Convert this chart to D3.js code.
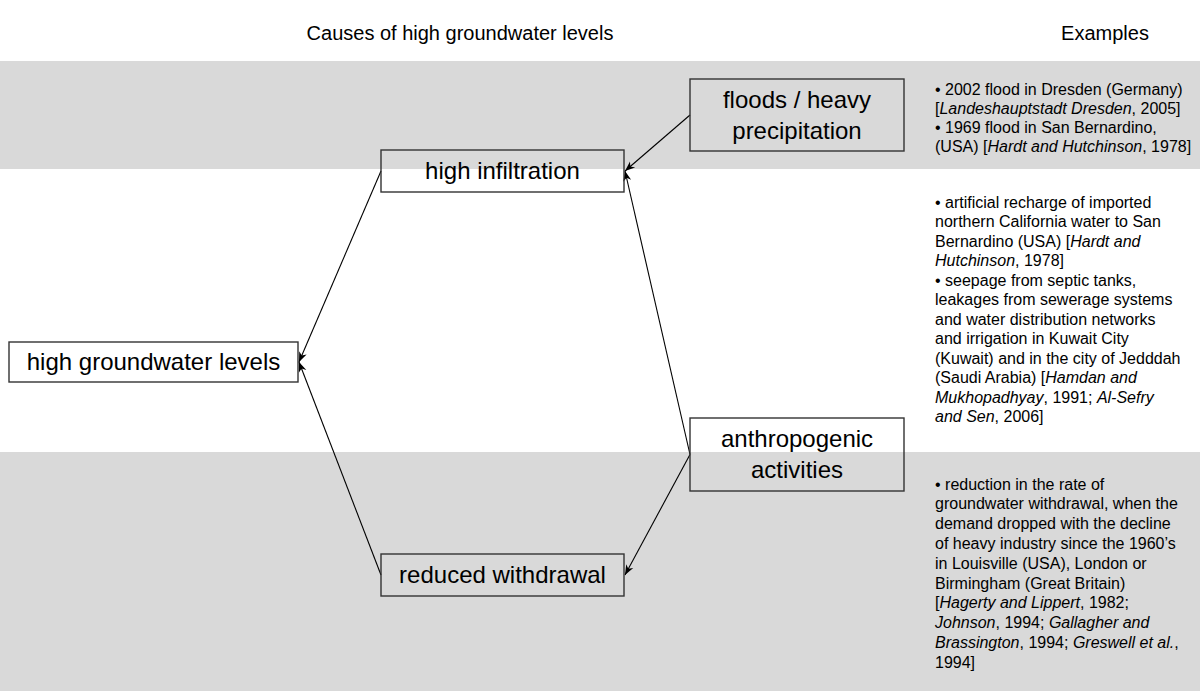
<!DOCTYPE html>
<html>
<head>
<meta charset="utf-8">
<script src="https://cdn.jsdelivr.net/npm/d3@7/dist/d3.min.js"></script>
<style>
  html, body { margin: 0; padding: 0; background: #fff; }
  svg { display: block; font-family: "Liberation Sans", Arial, sans-serif; }
</style>
</head>
<body>
<svg id="chart" width="1200" height="691"></svg>
<script>
// ---------------- data ----------------
const headings = ["Causes of high groundwater levels", "Examples"];

// diagram nodes: label lines and their causal level (0 = effect, 2 = root cause)
const nodeIds    = ["hgl", "infil", "withdr", "flood", "anthro"];
const nodeLines  = [["high groundwater levels"], ["high infiltration"], ["reduced withdrawal"],
                    ["floods / heavy", "precipitation"], ["anthropogenic", "activities"]];
const nodeLevels = [0, 1, 1, 2, 2];

// causal links: source -> target
const linkSources = ["flood", "anthro", "anthro", "infil", "withdr"];
const linkTargets = ["infil", "infil", "withdr", "hgl", "hgl"];

// horizontal bands (shaded, white, shaded) and their example texts (*...* = italic)
const bands = ["precipitation", "artificial", "withdrawal"];
const bandShaded = [true, false, true];
const examples1 = [
  "\u2022 2002 flood in Dresden (Germany)",
  "[*Landeshauptstadt Dresden*, 2005]",
  "\u2022 1969 flood in San Bernardino,",
  "(USA) [*Hardt and Hutchinson*, 1978]"
];
const examples2 = [
  "\u2022 artificial recharge of imported",
  "northern California water to San",
  "Bernardino (USA) [*Hardt and*",
  "*Hutchinson*, 1978]",
  "\u2022 seepage from septic tanks,",
  "leakages from sewerage systems",
  "and water distribution networks",
  "and irrigation in Kuwait City",
  "(Kuwait) and in the city of Jedddah",
  "(Saudi Arabia) [*Hamdan and*",
  "*Mukhopadhyay*, 1991; *Al-Sefry*",
  "*and Sen*, 2006]"
];
const examples3 = [
  "\u2022 reduction in the rate of",
  "groundwater withdrawal, when the",
  "demand dropped with the decline",
  "of heavy industry since the 1960\u2019s",
  "in Louisville (USA), London or",
  "Birmingham (Great Britain)",
  "[*Hagerty and Lippert*, 1982;",
  "*Johnson*, 1994; *Gallagher and*",
  "*Brassington*, 1994; *Greswell et al.*,",
  "1994]"
];
const examplesByBand = [examples1, examples2, examples3];

// ---------------- layout (scales) ----------------
const W = 1200, H = 691;
const svg = d3.select("#chart");

const bandY = d3.scaleOrdinal().domain(bands).range([61, 169, 452]);
const bandBottom = d3.scaleOrdinal().domain(bands).range([169, 452, 691]);
const exampleTop = d3.scaleOrdinal().domain(bands).range([89, 202, 484]);
const lineStep = d3.scaleOrdinal().domain(bands).range([19.1, 19.5, 19.8]);

const levelLeft  = d3.scaleOrdinal().domain([0, 1, 2]).range([9, 381, 690]);
const levelRight = d3.scaleOrdinal().domain([0, 1, 2]).range([298, 624, 904]);
const nodeCy = d3.scaleOrdinal().domain(nodeIds).range([362, 171, 575, 115, 454.5]);
const nodeH  = d3.scaleOrdinal().domain(nodeIds).range([40, 42, 42, 72, 73]);

const nodes = nodeIds.map((id, i) => ({
  id, lines: nodeLines[i], level: nodeLevels[i],
  x0: levelLeft(nodeLevels[i]), x1: levelRight(nodeLevels[i]),
  cy: nodeCy(id), h: nodeH(id)
}));
const byId = new Map(nodes.map(n => [n.id, n]));

// ---------------- bands ----------------
svg.append("g").selectAll("rect")
  .data(bands.filter((b, i) => bandShaded[i]))
  .join("rect")
  .attr("x", 0).attr("width", W)
  .attr("y", d => bandY(d))
  .attr("height", d => bandBottom(d) - bandY(d))
  .attr("fill", "#d9d9d9");

// ---------------- headings ----------------
const headX = d3.scaleOrdinal().domain(headings).range([460, 1105]);
svg.append("g").selectAll("text")
  .data(headings)
  .join("text")
  .attr("x", d => headX(d)).attr("y", 40)
  .attr("text-anchor", "middle")
  .attr("font-size", 20)
  .attr("fill", "#000")
  .text(d => d);

// ---------------- arrows ----------------
const defs = svg.append("defs");
defs.append("marker")
  .attr("id", "arrow")
  .attr("viewBox", "-11 -5 12 10")
  .attr("refX", 0).attr("refY", 0)
  .attr("markerWidth", 12).attr("markerHeight", 10)
  .attr("markerUnits", "userSpaceOnUse")
  .attr("orient", "auto")
  .append("path")
  .attr("d", "M0,0 L-10,-4 L-7,0 L-10,4 Z")
  .attr("fill", "#000");

const links = linkSources.map((s, i) => ({ s: byId.get(s), t: byId.get(linkTargets[i]) }));
svg.append("g").selectAll("line")
  .data(links)
  .join("line")
  .attr("x1", d => d.s.x0).attr("y1", d => d.s.cy)
  .attr("x2", d => d.t.x1 + 1).attr("y2", d => d.t.cy)
  .attr("stroke", "#000").attr("stroke-width", 1.1)
  .attr("marker-end", "url(#arrow)");

// ---------------- boxes ----------------
const ng = svg.append("g").selectAll("g")
  .data(nodes)
  .join("g");
ng.append("rect")
  .attr("x", d => d.x0).attr("y", d => d.cy - d.h / 2)
  .attr("width", d => d.x1 - d.x0).attr("height", d => d.h)
  .attr("fill", "none").attr("stroke", "#333").attr("stroke-width", 1.4);
ng.each(function (d) {
  const g = d3.select(this);
  const n = d.lines.length, step = 31;
  d.lines.forEach((ln, j) => {
    g.append("text")
      .attr("x", (d.x0 + d.x1) / 2)
      .attr("y", d.cy + (j - (n - 1) / 2) * step)
      .attr("dy", "0.35em")
      .attr("text-anchor", "middle")
      .attr("font-size", 24)
      .attr("fill", "#000")
      .text(ln);
  });
});

// ---------------- example texts ----------------
const exX = 935;
bands.forEach(b => {
  const lines = examplesByBand[bands.indexOf(b)];
  const g = svg.append("g");
  lines.forEach((ln, j) => {
    const t = g.append("text")
      .attr("x", exX)
      .attr("y", exampleTop(b) + j * lineStep(b))
      .attr("dy", "0.35em")
      .attr("font-size", 16)
      .attr("fill", "#000");
    ln.split("*").forEach((seg, k) => {
      if (!seg) return;
      t.append("tspan")
        .attr("font-style", k % 2 === 1 ? "italic" : "normal")
        .text(seg);
    });
  });
});
</script>
</body>
</html>
